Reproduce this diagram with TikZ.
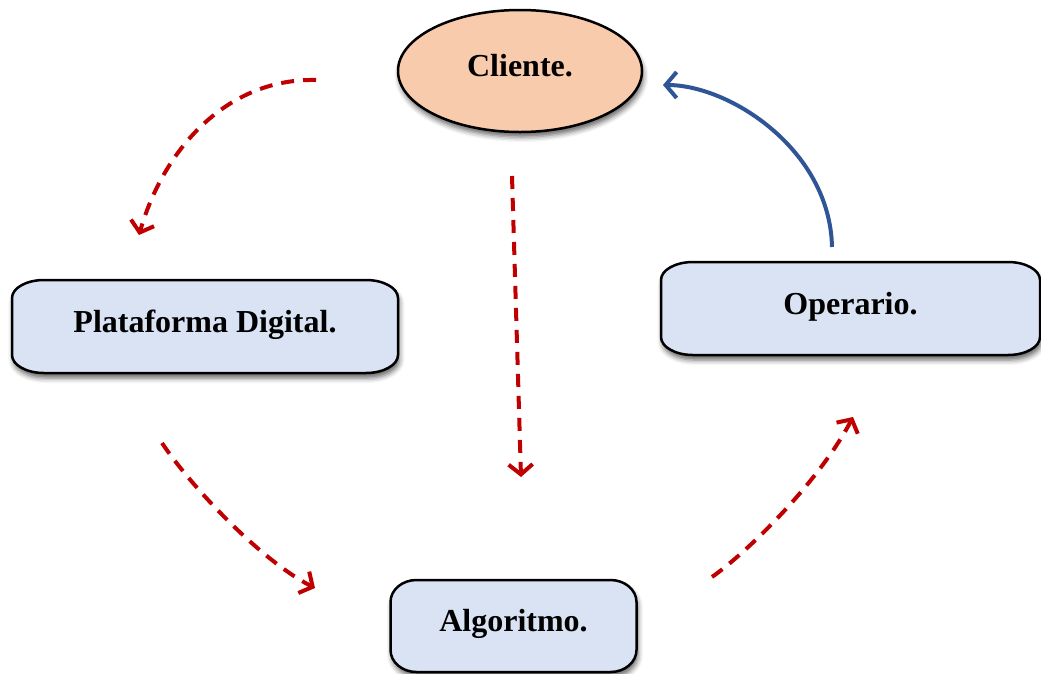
\documentclass[tikz,border=0pt]{standalone}
\usepackage{fontspec}
\setmainfont{Liberation Serif}
\usetikzlibrary{arrows.meta,shapes.geometric,shadows.blur,backgrounds}

\definecolor{boxblue}{HTML}{DAE3F3}
\definecolor{peach}{HTML}{F8CBAD}
\definecolor{flowred}{HTML}{C00000}
\definecolor{flowblue}{HTML}{2F5597}

\tikzset{
  labeltext/.style={font=\fontsize{32}{38}\selectfont\bfseries,
    text height=22pt, text depth=11pt, inner sep=0pt, outer sep=0pt},
  softshadow/.style={blur shadow={shadow xshift=1.5pt, shadow yshift=-5pt,
    shadow blur radius=5pt, shadow opacity=60}},
  stagebox/.style={labeltext, rectangle},
  stageframe/.style={draw=black, line width=2.5pt, fill=boxblue, softshadow},
  actor/.style={labeltext, ellipse, draw=black, line width=2.5pt,
    fill=peach, softshadow},
  flow/.style={draw=flowred, line width=4pt, dash pattern=on 13pt off 9pt,
    -{Straight Barb[length=10pt, width=24pt]}},
  reply/.style={draw=flowblue, line width=4pt,
    -{Straight Barb[length=11pt, width=26pt]}}
}

% frame with elliptic corners behind a stage node: #1 node, #2 x radius, #3 y radius
\newcommand\pillframe[3]{%
  \begin{scope}[on background layer]
    \path[stageframe]
      ([xshift=#2]#1.north west) -- ([xshift=-#2]#1.north east)
      arc[start angle=90, end angle=0, x radius=#2, y radius=#3]
      -- ([yshift=#3]#1.south east)
      arc[start angle=0, end angle=-90, x radius=#2, y radius=#3]
      -- ([xshift=#2]#1.south west)
      arc[start angle=270, end angle=180, x radius=#2, y radius=#3]
      -- ([yshift=-#3]#1.north west)
      arc[start angle=180, end angle=90, x radius=#2, y radius=#3]
      -- cycle;
  \end{scope}}

\begin{document}
\begin{tikzpicture}[x=1pt, y=-1pt]
  \useasboundingbox (0,0) rectangle (1041,673);

  % participants
  \node[actor, minimum width=244pt, minimum height=122pt] (cli) at (520,71) {Cliente.};
  \node[stagebox, minimum width=386pt, minimum height=93pt] (plat) at (205,326.5) {Plataforma Digital.};
  \node[stagebox, minimum width=379pt, minimum height=93pt] (oper) at (850.5,308.5) {Operario.};
  \node[stagebox, minimum width=246pt, minimum height=92pt] (algo) at (513.5,626) {Algoritmo.};
  \pillframe{plat}{32pt}{18pt}
  \pillframe{oper}{32pt}{18pt}
  \pillframe{algo}{26pt}{22pt}

  % free ends of the flow arrows
  \coordinate (c1s) at (316,80);
  \coordinate (c1e) at (139,235);
  \coordinate (c2s) at (512,176);
  \coordinate (c2e) at (521,477);
  \coordinate (c3s) at (162,443);
  \coordinate (c3e) at (315,588);
  \coordinate (c4s) at (712,577);
  \coordinate (c4e) at (853,417);
  \coordinate (c5s) at (832,247);
  \coordinate (c5e) at (663,85);

  % dashed flow: client -> platform -> algorithm -> operator, client -> algorithm
  \draw[flow] (c1s) .. controls (230,78) and (165,145) .. (c1e);
  \draw[flow] (c2s) -- (c2e);
  \draw[flow] (c3s) .. controls (190,485) and (260,560) .. (c3e);
  \draw[flow] (c4s) .. controls (750,550) and (820,480) .. (c4e);

  % operator answers the client
  \draw[reply] (c5s) .. controls (830,150) and (730,85) .. (c5e);
\end{tikzpicture}
\end{document}
